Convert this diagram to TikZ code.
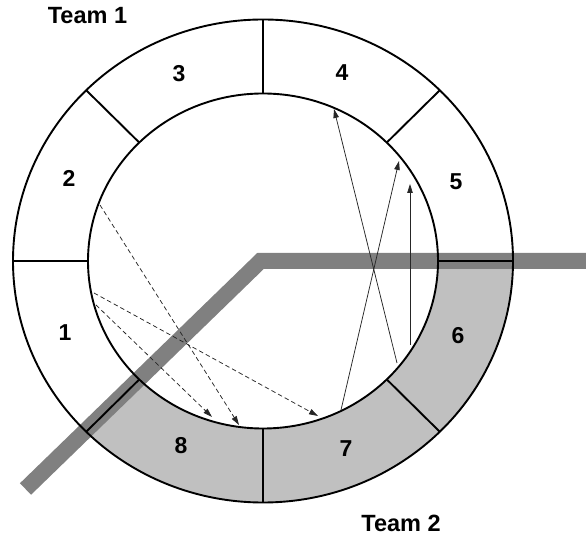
\documentclass[tikz,border=0pt]{standalone}
\usepackage{fontspec}
\setmainfont{Liberation Sans}
\usetikzlibrary{calc,arrows.meta}
\definecolor{segfill}{HTML}{C0C0C0}
\definecolor{bandgray}{HTML}{808080}
\tikzset{
  ringline/.style={line width=1.9pt,black},
  lbl/.style={font=\fontsize{23}{23}\selectfont\bfseries,inner sep=0pt},
  teamlbl/.style={font=\fontsize{23.5}{23.5}\selectfont\bfseries,inner sep=0pt},
  passarrow/.style={line width=0.75pt,black!85,-{Triangle[length=9pt,width=5.5pt]}},
  kickarrow/.style={line width=0.75pt,black!85,dash pattern=on 4.5pt off 3pt,-{Triangle[length=9pt,width=5.5pt]}},
  band/.style={line width=16pt,bandgray,line join=miter,line cap=butt}
}
\begin{document}
\begin{tikzpicture}[x=1pt,y=1pt]
\useasboundingbox (0,0) rectangle (586,538);
\coordinate (C) at (263,277);
% shaded segments 6,7,8
\fill[segfill] ($(C)+(-135:250pt and 241.5pt)$) arc[start angle=-135,end angle=0,x radius=250pt,y radius=241.5pt]
  -- ($(C)+(0:175pt and 167.5pt)$) arc[start angle=0,end angle=-135,x radius=175pt,y radius=167.5pt] -- cycle;
% gray band
\coordinate (b1) at (25.5,49);
\coordinate (b2) at (260.5,277);
\coordinate (b3) at (600,277);
\draw[band] (b1) -- (b2) -- (b3);
% ring
\draw[ringline] (C) ellipse[x radius=250pt,y radius=241.5pt];
\draw[ringline] (C) ellipse[x radius=175pt,y radius=167.5pt];
\foreach \a in {0,45,...,315}
  \draw[ringline] ($(C)+(\a:175pt and 167.5pt)$) -- ($(C)+(\a:250pt and 241.5pt)$);
% labels
\node[lbl] (s1) at (65,205) {1};
\node[lbl] (s2) at (69,360) {2};
\node[lbl] (s3) at (179,464) {3};
\node[lbl] (s4) at (342,465) {4};
\node[lbl] (s5) at (456,356) {5};
\node[lbl] (s6) at (458,202) {6};
\node[lbl] (s7) at (346,89) {7};
\node[lbl] (s8) at (181,92) {8};
\node[teamlbl] (t1) at (87.5,522) {Team 1};
\node[teamlbl] (t2) at (401,15) {Team 2};
% arrow end points
\coordinate (d1a) at (100,333); \coordinate (d1b) at (239,113);
\coordinate (d2a) at (94,245);  \coordinate (d2b) at (318,122);
\coordinate (d3a) at (96,233);  \coordinate (d3b) at (212,121);
\coordinate (p1a) at (397,175); \coordinate (p1b) at (334,429);
\coordinate (p2a) at (341,128); \coordinate (p2b) at (399,377);
\coordinate (p3a) at (410,193); \coordinate (p3b) at (410,354);
\draw[kickarrow] (d1a) -- (d1b);
\draw[kickarrow] (d2a) -- (d2b);
\draw[kickarrow] (d3a) -- (d3b);
\draw[passarrow] (p1a) -- (p1b);
\draw[passarrow] (p2a) -- (p2b);
\draw[passarrow] (p3a) -- (p3b);
\end{tikzpicture}
\end{document}
